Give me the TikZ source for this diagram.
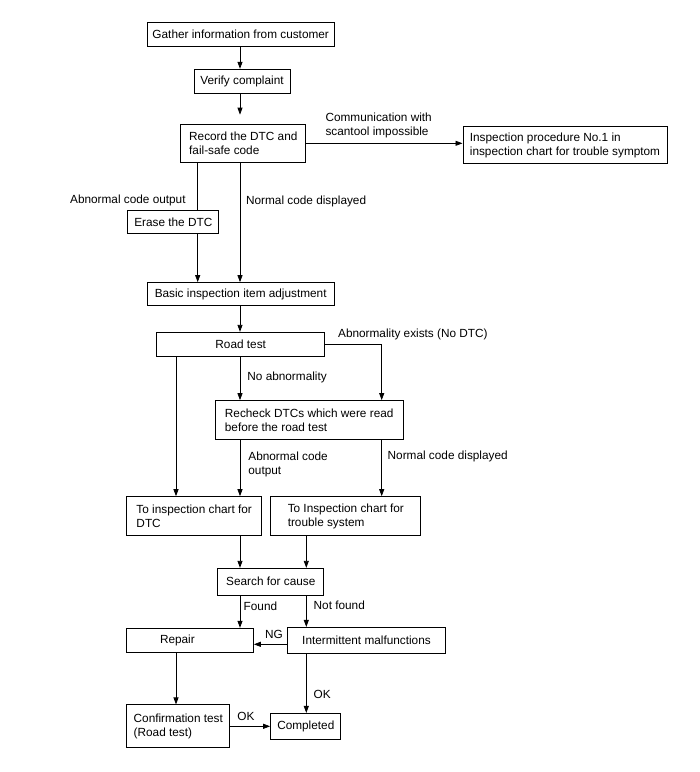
\documentclass[tikz,border=0pt]{standalone}
\usepackage{fontspec}
\setmainfont{Liberation Sans}
\usepackage{tikz}
\usetikzlibrary{arrows.meta,positioning,calc}

\tikzset{
  box/.style={draw, line width=1pt, inner sep=0pt, align=left},
  lbl/.style={inner sep=0pt, align=left}
}

\begin{document}
\begin{tikzpicture}[x=1pt,y=-1pt,on grid,line width=0.8pt,
    >={Triangle[length=7pt,width=5pt]},
    font=\fontsize{11.8pt}{14pt}\selectfont]
   \useasboundingbox (0,0) rectangle (700,772);
   % lanes of the vertical connectors
   \coordinate (xa) at (176,0);
   \coordinate (xb) at (197.7,0);
   \coordinate (xc) at (240,0);
   \coordinate (xd) at (306.3,0);
   \coordinate (xe) at (381.7,0);
   \coordinate (yng) at (0,644.3);

   \node[box, minimum width=186.7pt, minimum height=24pt] (gather) at (240.7,34.7) {Gather information from customer};
   \node[box, minimum width=96pt, minimum height=24pt] (verify) [below=46.6pt of gather, xshift=1.3pt] {Verify complaint};
   \node[box, minimum width=125.3pt, minimum height=38.3pt] (record) [below=62pt of verify, xshift=1.3pt] {Record the DTC and\\fail-safe code};
   \node[box, minimum width=204pt, minimum height=36.7pt] (insp) [right=321.7pt of record, yshift=-2pt] {Inspection procedure No.1 in\\inspection chart for trouble symptom};
   \node[box, minimum width=91.3pt, minimum height=22.7pt] (erase) [below=78.7pt of record, xshift=-70pt] {Erase the DTC};
   \node[box, minimum width=186.7pt, minimum height=23.3pt] (basic) [below=151pt of record, xshift=-2.6pt] {Basic inspection item adjustment};
   \node[box, minimum width=168.3pt, minimum height=24.3pt] (road) [below=50.2pt of basic] {Road test};
   \node[box, minimum width=188.3pt, minimum height=38.7pt] (recheck) [below=75.5pt of road, xshift=68.5pt] {Recheck DTCs which were read\\before the road test};
   \node[box, minimum width=135pt, minimum height=39pt] (dtc) [below=96.2pt of recheck, xshift=-115pt] {To inspection chart for\\DTC};
   \node[box, minimum width=150.3pt, minimum height=39pt] (trouble) [right=151.6pt of dtc] {To Inspection chart for\\trouble system};
   \node[box, minimum width=106.3pt, minimum height=26.7pt] (search) [below=65.5pt of dtc, xshift=76.6pt] {Search for cause};
   \node[box, minimum width=126.7pt, minimum height=24pt, text width=60pt] (repair) [below=58.6pt of search, xshift=-80.8pt] {Repair};
   \node[box, minimum width=158.3pt, minimum height=25.7pt] (inter) [right=176.5pt of repair] {Intermittent malfunctions};
   \node[box, minimum width=103.3pt, minimum height=42.7pt] (confirm) [below=86pt of repair, xshift=-11.7pt] {Confirmation test\\(Road test)};
   \node[box, minimum width=70.3pt, minimum height=25.7pt] (done) [right=127.5pt of confirm] {Completed};

   \draw[->] (gather.south -| xc) -- (verify.north -| xc);
   \draw[->, shorten >=9pt] (verify.south -| xc) -- (record.north -| xc);
   \draw[->] (record.east) -- node[lbl, pos=.12, anchor=south west, yshift=5pt] (lcomm) {Communication with\\scantool impossible} (record.east -| insp.west);
   \draw (record.south -| xb) -- node[lbl, pos=.79, left=11.7pt] (labn) {Abnormal code output} (erase.north -| xb);
   \draw[->] (erase.south -| xb) -- (basic.north -| xb);
   \draw[->] (record.south -| xc) -- node[lbl, pos=.32, right=5.7pt] (lnorm) {Normal code displayed} (basic.north -| xc);
   \draw[->] (basic.south -| xc) -- (road.north -| xc);
   \draw[->] (road.south -| xa) -- (dtc.north -| xa);
   \draw[->] (road.south -| xc) -- node[lbl, pos=.47, right=7pt] (lnoab) {No abnormality} (recheck.north -| xc);
   \draw[->] (road.east) -| node[lbl, pos=.11, anchor=south west, yshift=4pt] (lexist) {Abnormality exists (No DTC)} (recheck.north -| xe);
   \draw[->] (recheck.south -| xc) -- node[lbl, pos=.44, right=8pt] (labn2) {Abnormal code\\output} (dtc.north -| xc);
   \draw[->] (recheck.south -| xe) -- node[lbl, pos=.29, right=5.6pt] (lnorm2) {Normal code displayed} (trouble.north -| xe);
   \draw[->] (dtc.south -| xc) -- (search.north -| xc);
   \draw[->] (trouble.south -| xd) -- (search.north -| xd);
   \draw[->] (search.south -| xc) -- node[lbl, pos=.32, right=3.3pt] (lfound) {Found} (repair.north -| xc);
   \draw[->] (search.south -| xd) -- node[lbl, pos=.32, right=7pt] (lnotf) {Not found} (inter.north -| xd);
   \draw[->] (inter.west |- yng) -- node[lbl, pos=.39, above=5pt] (lng) {NG} (repair.east |- yng);
   \draw[->] (repair.south -| xa) -- (confirm.north -| xa);
   \draw[->] (inter.south -| xd) -- node[lbl, pos=.68, right=7pt] (lok) {OK} (done.north -| xd);
   \draw[->] (confirm.east) -- node[lbl, pos=.39, above=5pt] (lok2) {OK} (confirm.east -| done.west);
\end{tikzpicture}
\end{document}
